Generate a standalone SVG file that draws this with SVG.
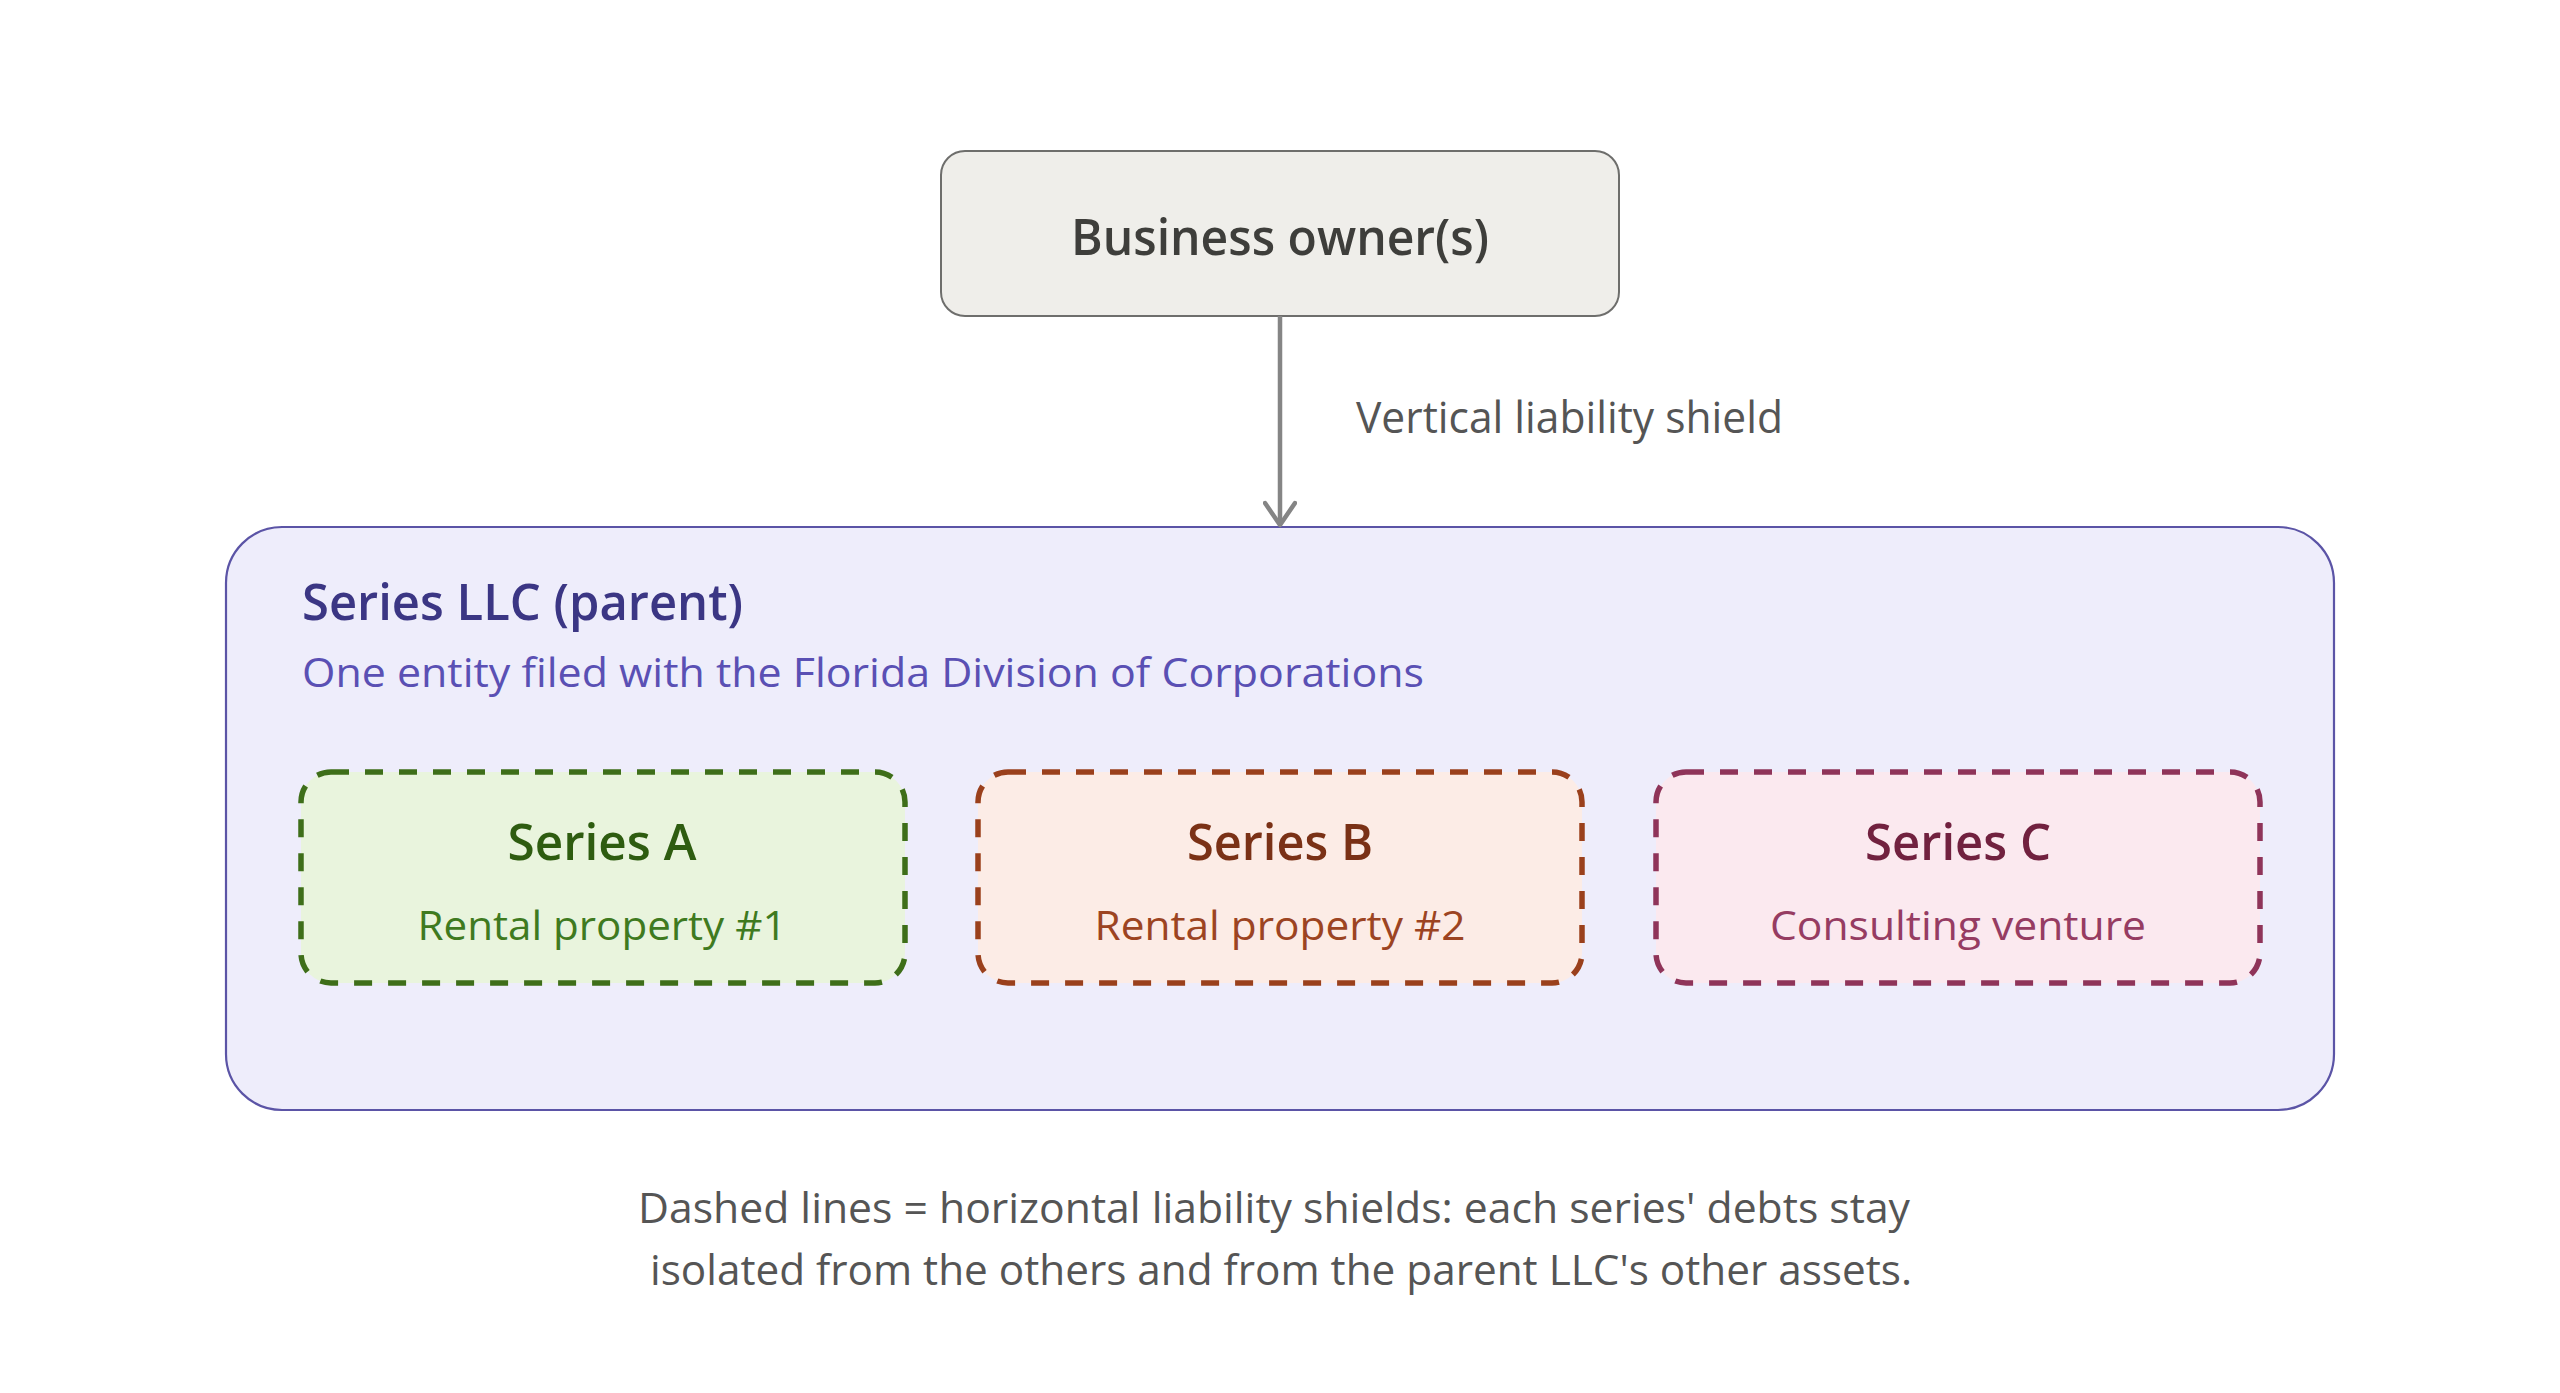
<svg xmlns="http://www.w3.org/2000/svg" width="2560" height="1393" viewBox="0 0 2560 1393">
<style>
text { font-family: "Open Sans", "Noto Sans", "Liberation Sans", sans-serif; }
.title { font-size: 50px; font-weight: 600; }
.sub { font-size: 40px; font-weight: 400; }
.series { stroke-width: 5.5; stroke-dasharray: 18 16; }
</style>
<defs>
<marker id="arrow" viewBox="0 0 32 34" refX="28" refY="17" markerWidth="32" markerHeight="34" markerUnits="userSpaceOnUse" orient="auto">
<path d="M6,2 L28,17 L6,32" fill="none" stroke="#858585" stroke-width="4.5" stroke-linecap="round" stroke-linejoin="round"/>
</marker>
</defs>
<rect width="2560" height="1393" fill="#ffffff"/>

<g id="parent">
<rect x="226" y="527" width="2108" height="583" rx="56" ry="56" fill="#eeedfb" stroke="#5b54a6" stroke-width="2.2"/>
<text x="302" y="620" class="title" fill="#3b3684" textLength="441" lengthAdjust="spacingAndGlyphs">Series LLC (parent)</text>
<text x="302" y="687" class="sub" fill="#5a50b4" textLength="1122" lengthAdjust="spacingAndGlyphs">One entity filed with the Florida Division of Corporations</text>
</g>

<g id="owner">
<rect x="941" y="151" width="678" height="165" rx="24" ry="24" fill="#efeeea" stroke="#6e6e6c" stroke-width="2"/>
<text x="1280" y="255" class="title" fill="#3e3e3b" text-anchor="middle" textLength="418" lengthAdjust="spacingAndGlyphs">Business owner(s)</text>
</g>

<g id="connectors">
<line x1="1280" y1="316" x2="1280" y2="525" stroke="#858585" stroke-width="4.5" marker-end="url(#arrow)"/>
<text x="1356" y="433" font-size="43" fill="#555555" textLength="427" lengthAdjust="spacingAndGlyphs">Vertical liability shield</text>
</g>

<g id="series-a">
<rect x="301" y="772" width="604" height="211" rx="30" ry="30" class="series" fill="#e9f4dd" stroke="#3e6e19"/>
<text x="602" y="860" class="title" fill="#2e5c10" text-anchor="middle" textLength="189" lengthAdjust="spacingAndGlyphs">Series A</text>
<text x="602" y="940" class="sub" fill="#3f7a1f" text-anchor="middle" textLength="369" lengthAdjust="spacingAndGlyphs">Rental property #1</text>
</g>

<g id="series-b">
<rect x="978" y="772" width="604" height="211" rx="30" ry="30" class="series" fill="#fcece6" stroke="#9a401c"/>
<text x="1280" y="860" class="title" fill="#7a3116" text-anchor="middle" textLength="186" lengthAdjust="spacingAndGlyphs">Series B</text>
<text x="1280" y="940" class="sub" fill="#9c4422" text-anchor="middle" textLength="371" lengthAdjust="spacingAndGlyphs">Rental property #2</text>
</g>

<g id="series-c">
<rect x="1656" y="772" width="604" height="211" rx="30" ry="30" class="series" fill="#fbe9ef" stroke="#8f3459"/>
<text x="1958" y="860" class="title" fill="#71213f" text-anchor="middle" textLength="186" lengthAdjust="spacingAndGlyphs">Series C</text>
<text x="1958" y="940" class="sub" fill="#963c62" text-anchor="middle" textLength="376" lengthAdjust="spacingAndGlyphs">Consulting venture</text>
</g>

<g id="caption">
<text x="1274" y="1223" font-size="42" fill="#555555" text-anchor="middle" textLength="1272" lengthAdjust="spacingAndGlyphs">Dashed lines = horizontal liability shields: each series' debts stay</text>
<text x="1281" y="1285" font-size="42" fill="#555555" text-anchor="middle" textLength="1262" lengthAdjust="spacingAndGlyphs">isolated from the others and from the parent LLC's other assets.</text>
</g>
</svg>
